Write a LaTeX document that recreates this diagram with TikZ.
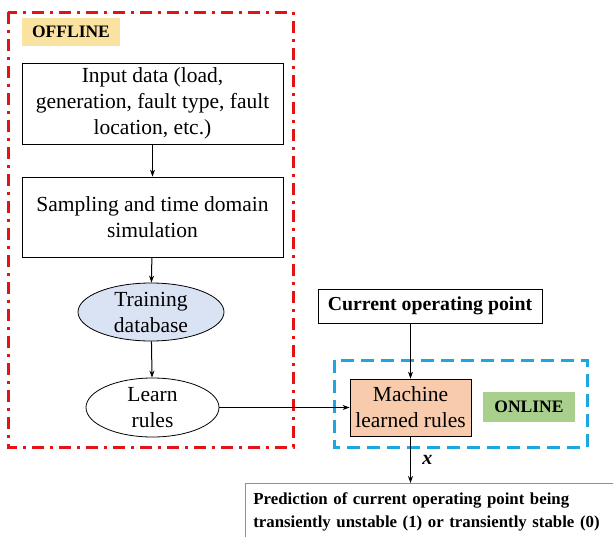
\documentclass[tikz,border=0pt]{standalone}
\usepackage{fontspec}
\setmainfont{Liberation Serif}
\usetikzlibrary{arrows.meta,shapes.geometric,positioning}
\definecolor{offred}{RGB}{225,20,20}
\definecolor{onblue}{RGB}{30,166,222}
\definecolor{tagyellow}{RGB}{250,226,160}
\definecolor{taggreen}{RGB}{168,208,140}
\definecolor{dbblue}{RGB}{218,227,243}
\definecolor{rulepeach}{RGB}{247,203,172}
\definecolor{predgray}{RGB}{130,148,170}
\tikzset{procbox/.style={draw, line width=0.8pt, align=center, inner sep=0pt},
 dataell/.style={draw, line width=0.8pt, ellipse, align=center, inner sep=0pt},
 tagbox/.style={inner sep=0pt, font=\fontsize{17.5}{20}\selectfont\bfseries},
 flow/.style={-{Stealth[length=7pt,width=5pt]}, line width=1pt},
 bigfont/.style={font=\fontsize{21.5}{26}\selectfont},
}

\begin{document}
\begin{tikzpicture}[x=1pt, y=-1pt]
        \clip (0,0) rectangle (613,536);
        \fill[white] (0,0) rectangle (613,536);
        % offline part
        \draw[offred, line width=3pt, dash pattern=on 12pt off 6pt on 3pt off 6pt] (8,12) rectangle (293,447);
        \node[tagbox, fill=tagyellow, minimum width=98pt, minimum height=28pt] (offtag) at (71,32) {OFFLINE};
        \node[procbox, bigfont, minimum width=261pt, minimum height=81pt] (input) at (152.5,103.5) {Input data (load,\\generation, fault type, fault\\location, etc.)};
        \node[procbox, bigfont, minimum width=261pt, minimum height=80pt] (sampling) at (152.5,217) {Sampling and time domain\\simulation};
        \node[dataell, bigfont, fill=dbblue, minimum width=146pt, minimum height=58pt] (database) at (151,312) {Training\\database};
        \node[dataell, bigfont, fill=white, minimum width=133pt, minimum height=59pt] (learn) at (152.5,407.5) {Learn\\rules};
        % online part
        \draw[onblue, line width=3pt, dash pattern=on 13pt off 7pt] (334,360) rectangle (587,447);
        \node[procbox, font=\fontsize{19.8}{22}\selectfont\bfseries, minimum width=224pt, minimum height=34pt] (current) at (430,306) {Current operating point};
        \node[procbox, bigfont, fill=rulepeach, minimum width=121pt, minimum height=57pt] (machine) at (410.5,407.5) {Machine\\learned rules};
        \node[tagbox, fill=taggreen, minimum width=92pt, minimum height=30pt] (ontag) at (529,407) {ONLINE};
        \node[draw=predgray, line width=0.8pt, anchor=north west, align=left, inner xsep=8pt, inner ysep=3pt, text width=420pt, minimum height=56pt, font=\fontsize{16.8}{23}\selectfont\bfseries] (pred) at (245,483) {Prediction of current operating point being\\transiently unstable (1) or transiently stable (0)};
        % connectors
        \draw[flow] (input) -- (sampling);
        \draw[flow] (sampling) -- (database);
        \draw[flow] (database) -- (learn);
        \draw[flow] (learn) -- (machine);
        \draw[flow] (current.south -| machine.north) -- (machine.north);
        \draw[flow] (machine.south) -- node[right, xshift=8pt, font=\fontsize{20}{22}\selectfont\bfseries\itshape] {x} (machine.south |- pred.north);
    \end{tikzpicture}
\end{document}
